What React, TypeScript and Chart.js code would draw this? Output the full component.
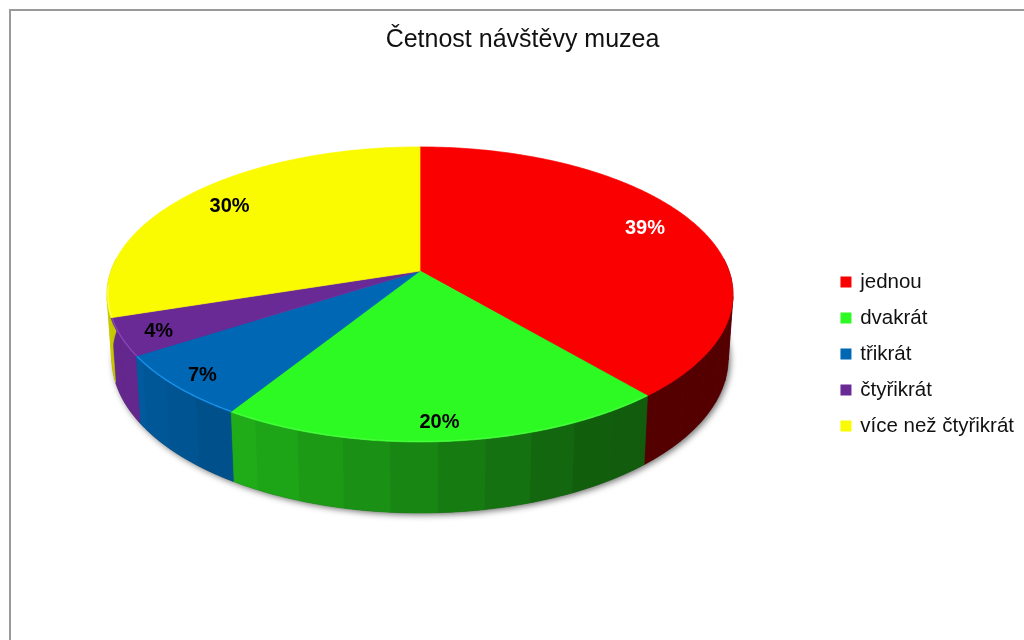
import React, { useEffect, useRef } from "react";
import { Chart, registerables } from "chart.js";

Chart.register(...registerables);

const chartTitle = "Četnost návštěvy muzea";
const categories = ["jednou", "dvakrát", "třikrát", "čtyřikrát", "více než čtyřikrát"];
const shares = [38.8, 20.1, 7, 4.1, 30];
const sliceColors = ["#fb0000", "#2dfa23", "#0067b4", "#6a2a96", "#fafa00"];
const rimColors = ["#ff3030", "#48fc3e", "#1a96f0", "#8a48b8", "#ffff60"];
const labelColors = ["#ffffff", "#000000", "#000000", "#000000", "#000000"];
const labelRadius = [0.81, 0.9, 0.9, 0.88, 0.82];
const labelNudgeX = [0, -4, 0, 0, 0];
const labelNudgeY = [-4, 1, 2, 3, 0];

// Perspective of the disc
const apex = { x: 420, y: 271 };
const radiusX = 309;
const radiusY = 143.8;
const tilt = 0.159;

const project = (theta: number, r = 1) => {
  const u = Math.sin(theta) * r;
  const v = -Math.cos(theta) * r;
  const w = 1 - tilt * v;
  return { x: apex.x + (radiusX * u) / w, y: apex.y + (radiusY * v) / w, v };
};

const lowerEdge = (theta: number) => {
  const p = project(theta);
  return { x: apex.x + (p.x - apex.x) * 0.985, y: p.y + 62 + 9 * p.v };
};

const deg = Math.PI / 180;

const sideLight = (t: number) => {
  const d = t / deg;
  if (d < 141) return 0.34;
  if (d < 150) return 0.37;
  if (d < 212) return 0.37 + ((d - 150) / 62) * 0.33;
  if (d < 238) return 0.76 + ((d - 212) / 26) * 0.12;
  if (d < 252.5) return 0.94;
  return 0.8;
};

const shade = (hex: string, f: number) => {
  const n = parseInt(hex.slice(1), 16);
  return `rgb(${Math.round(((n >> 16) & 255) * f)},${Math.round(((n >> 8) & 255) * f)},${Math.round((n & 255) * f)})`;
};

const disc3d = {
  id: "disc3d",
  beforeDatasetDraw(chart: any) {
    const ctx = chart.ctx;
    const arcs = chart.getDatasetMeta(0).data;
    const colors = chart.data.datasets[0].backgroundColor;
    const span = (a: any) => ({ s: a.startAngle + Math.PI / 2, e: a.endAngle + Math.PI / 2 });

    // soft shadow under the body
    ctx.save();
    ctx.shadowColor = "rgba(0,0,0,0.55)";
    ctx.shadowBlur = 6;
    ctx.shadowOffsetX = 2;
    ctx.shadowOffsetY = 2;
    ctx.fillStyle = "#444";
    ctx.beginPath();
    for (let d = 85; d <= 275; d += 1) {
      const p = lowerEdge(d * deg);
      if (d === 85) ctx.moveTo(p.x, p.y);
      else ctx.lineTo(p.x, p.y);
    }
    ctx.closePath();
    ctx.fill();
    ctx.restore();

    // wall, in stepped bands
    const step = 7.5 * deg;
    arcs.forEach((arc: any, i: number) => {
      const { s, e } = span(arc);
      const from = Math.max(s, 85 * deg);
      const to = Math.min(e, 275 * deg);
      for (let a = from; a < to; a += step) {
        const b = Math.min(a + step, to);
        const c = shade(colors[i], sideLight((a + b) / 2));
        ctx.fillStyle = c;
        ctx.strokeStyle = c;
        ctx.lineWidth = 0.6;
        ctx.beginPath();
        for (let t = a; t < b; t += deg) {
          const p = project(t);
          ctx.lineTo(p.x, p.y);
        }
        const pb = project(b);
        ctx.lineTo(pb.x, pb.y);
        const qb = lowerEdge(b);
        ctx.lineTo(qb.x, qb.y);
        for (let t = b; t > a; t -= deg) {
          const q = lowerEdge(t);
          ctx.lineTo(q.x, q.y);
        }
        const qa = lowerEdge(a);
        ctx.lineTo(qa.x, qa.y);
        ctx.closePath();
        ctx.fill();
        ctx.stroke();
      }
    });

    // top face
    arcs.forEach((arc: any, i: number) => {
      const { s, e } = span(arc);
      ctx.fillStyle = colors[i];
      ctx.strokeStyle = colors[i];
      ctx.lineWidth = 0.7;
      ctx.beginPath();
      ctx.moveTo(apex.x, apex.y);
      for (let t = s; t < e; t += deg / 2) {
        const p = project(t);
        ctx.lineTo(p.x, p.y);
      }
      const pe = project(e);
      ctx.lineTo(pe.x, pe.y);
      ctx.closePath();
      ctx.fill();
      ctx.stroke();
    });

    // bevel on the near rim
    arcs.forEach((arc: any, i: number) => {
      const { s, e } = span(arc);
      const from = Math.max(s, 95 * deg);
      const to = Math.min(e, 265 * deg);
      if (from >= to || i === 0) return;
      ctx.strokeStyle = rimColors[i];
      ctx.lineWidth = 1.2;
      ctx.beginPath();
      for (let t = from; t <= to; t += deg / 2) {
        const p = project(t, 0.997);
        ctx.lineTo(p.x, p.y);
      }
      ctx.stroke();
    });
    return false;
  },
  afterDatasetsDraw(chart: any) {
    const ctx = chart.ctx;
    const arcs = chart.getDatasetMeta(0).data;
    ctx.save();
    ctx.font = "bold 20px 'Liberation Sans', Arial, sans-serif";
    ctx.textAlign = "center";
    ctx.textBaseline = "middle";
    arcs.forEach((arc: any, i: number) => {
      const mid = (arc.startAngle + arc.endAngle) / 2 + Math.PI / 2;
      const p = project(mid, labelRadius[i]);
      ctx.fillStyle = labelColors[i];
      ctx.fillText(`${Math.round(shares[i])}%`, p.x + labelNudgeX[i], p.y + labelNudgeY[i]);
    });
    ctx.restore();
  },
};

export default function App() {
  const ref = useRef<HTMLCanvasElement>(null);
  useEffect(() => {
    const chart = new Chart(ref.current as HTMLCanvasElement, {
      type: "pie",
      data: {
        labels: categories,
        datasets: [{ data: shares, backgroundColor: sliceColors, borderWidth: 0 }],
      },
      plugins: [disc3d],
      options: {
        responsive: false,
        animation: false,
        layout: { padding: { left: 21, right: 0, top: 25, bottom: -43 } },
        plugins: {
          tooltip: { enabled: false },
          title: {
            display: true,
            text: chartTitle,
            color: "#111",
            font: { family: "'Liberation Sans', Arial, sans-serif", size: 25, weight: "normal" },
            padding: { top: 0, bottom: 51 },
          },
          legend: {
            position: "right",
            labels: {
              boxWidth: 8,
              boxHeight: 8,
              padding: 15.5,
              color: "#111",
              font: { family: "'Liberation Sans', Arial, sans-serif", size: 20.5 },
              generateLabels: (chart: any) =>
                categories.map((text, i) => ({
                  text,
                  index: i,
                  fillStyle: sliceColors[i],
                  strokeStyle: sliceColors[i],
                  lineWidth: 3,
                  fontColor: "#111",
                  hidden: false,
                })),
            },
          },
        },
      },
    } as any);
    return () => chart.destroy();
  }, []);
  return (
    <div style={{ position: "fixed", left: 0, top: 0, width: 1024, height: 640, background: "#fff", overflow: "hidden" }}>
      <div
        style={{
          position: "absolute",
          left: 9,
          top: 9,
          width: 1100,
          height: 700,
          borderLeft: "2px solid #9a9a9a",
          borderTop: "2px solid #9a9a9a",
        }}
      />
      <canvas ref={ref} width={1024} height={640} style={{ position: "absolute", left: 0, top: 0 }} />
    </div>
  );
}
